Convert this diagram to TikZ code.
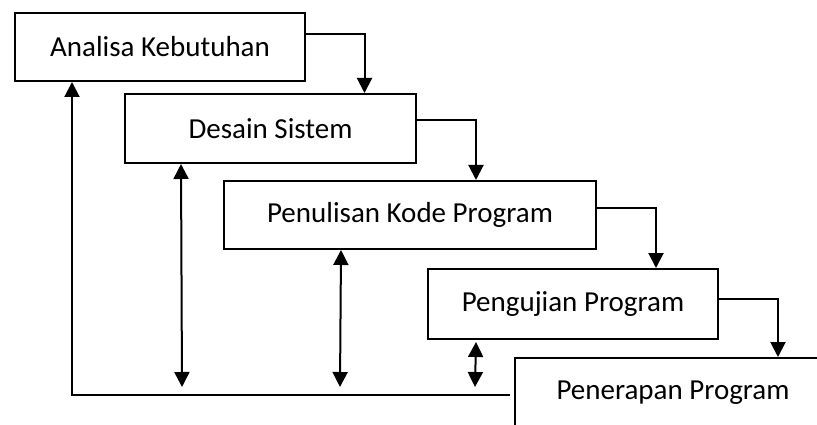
\documentclass[tikz,border=0pt]{standalone}
\usepackage{fontspec}
\setmainfont{Carlito}
\usetikzlibrary{arrows.meta}
\begin{document}
\begin{tikzpicture}[x=1pt,y=-1pt,
  stage/.style={draw, line width=2pt, rectangle, anchor=north west, inner sep=0pt,
    font=\fontsize{29}{32}\selectfont},
  flow/.style={line width=2pt, -{Triangle[length=15pt,width=15pt]}},
  both/.style={line width=2pt, {Triangle[length=15pt,width=15pt]}-{Triangle[length=15pt,width=15pt]}},
  plain/.style={line width=2pt}]
\useasboundingbox (0,0) rectangle (817,425);
\clip (0,0) rectangle (817,425);
\node[stage, minimum width=290pt, minimum height=68pt] (b1) at (14,12) {Analisa Kebutuhan};
\node[stage, minimum width=291pt, minimum height=69pt] (b2) at (124,93) {Desain Sistem};
\node[stage, minimum width=372pt, minimum height=68pt] (b3) at (223,180) {Penulisan Kode Program};
\node[stage, minimum width=290pt, minimum height=70pt] (b4) at (427,268) {Pengujian Program};
\node[stage, minimum width=316pt, minimum height=70pt] (b5) at (514,357) {Penerapan Program};
% forward flow
\draw[flow] ([yshift=13pt]b1.east) -| ([xshift=94pt]b2.north);
\draw[flow] ([yshift=8.5pt]b2.east) -| ([xshift=66pt]b3.north);
\draw[flow] ([yshift=7pt]b3.east) -| ([xshift=83pt]b4.north);
\draw[flow] ([yshift=5pt]b4.east) -| ([xshift=105pt]b5.north);
% feedback
\coordinate (fb) at (510,395);
\coordinate (t2) at (182,387);
\coordinate (t3) at (340,387);
\coordinate (t4) at (475,387);
\draw[flow] (fb) -| ([xshift=-88pt]b1.south);
\draw[both] ([xshift=-89.5pt]b2.south) -- (t2);
\draw[both] ([xshift=-69pt]b3.south) -- (t3);
\draw[both] ([xshift=-97pt,yshift=-2pt]b4.south) -- (t4);
\end{tikzpicture}
\end{document}
